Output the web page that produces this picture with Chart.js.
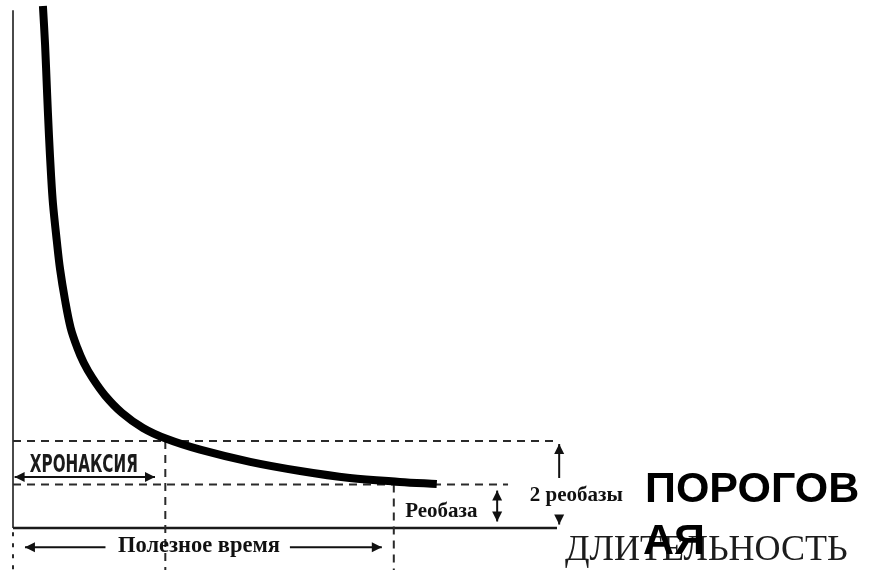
<!DOCTYPE html>
<html lang="ru">
<head>
<meta charset="utf-8">
<title>Кривая сила–длительность</title>
<script src="https://cdn.jsdelivr.net/npm/chart.js@4/dist/chart.umd.min.js"></script>
<style>
  html, body { margin: 0; padding: 0; background: #fff; }
  #wrap { width: 880px; height: 570px; position: relative; }
</style>
</head>
<body>
<div id="wrap"><canvas id="chart" width="880" height="570"></canvas></div>
<script>
// Strength–duration curve (threshold stimulus vs. stimulus duration)
const curveTime = [5.5, 5.9, 6.25, 6.6, 7.0, 7.35, 8.05, 8.65, 9.55, 10.6, 11.8, 13.0, 14.6, 16.9, 20.0, 23.9, 28.2, 34.4, 43.6, 52.8, 61.9, 71.1, 77.9];
const curveThreshold = [12.0, 11.1, 10.05, 9.05, 8.1, 7.45, 6.6, 5.95, 5.25, 4.6, 4.15, 3.8, 3.45, 3.05, 2.65, 2.3, 2.05, 1.8, 1.52, 1.31, 1.15, 1.06, 1.01];

// Reference levels and times
const rheobase = 1;
const doubleRheobase = 2;
const chronaxie = 28;
const usefulTime = 70;
const axisMaxTime = 100;
const axisMaxThreshold = 12;
const belowAxis = -0.97;

// Labels
const labelChronaxie = 'ХРОНАКСИЯ';
const labelUsefulTime = 'Полезное время';
const labelRheobase = 'Реобаза';
const labelDoubleRheobase = '2 реобазы';
const labelThreshold = ['ПОРОГОВ', 'АЯ'];
const labelDuration = 'ДЛИТЕЛЬНОСТЬ';

const curvePoints = curveTime.map((t, i) => ({ x: t, y: curveThreshold[i] }));

const dashStyle = { borderColor: '#2a2a2a', borderWidth: 2, borderDash: [8, 6], pointRadius: 0, clip: false, tension: 0 };

function arrow(ctx, x1, y1, x2, y2, both) {
  const head = (fx, fy, tx, ty) => {
    const a = Math.atan2(ty - fy, tx - fx);
    const L = 10, W = 5;
    ctx.beginPath();
    ctx.moveTo(tx, ty);
    ctx.lineTo(tx - L * Math.cos(a) + W * Math.sin(a), ty - L * Math.sin(a) - W * Math.cos(a));
    ctx.lineTo(tx - L * Math.cos(a) - W * Math.sin(a), ty - L * Math.sin(a) + W * Math.cos(a));
    ctx.closePath();
    ctx.fill();
  };
  ctx.beginPath();
  ctx.moveTo(x1, y1);
  ctx.lineTo(x2, y2);
  ctx.stroke();
  head(x1, y1, x2, y2);
  if (both) head(x2, y2, x1, y1);
}

const annotations = {
  id: 'sdAnnotations',
  beforeDatasetsDraw(chart) {
    const { ctx } = chart;
    const xs = chart.scales.x, ys = chart.scales.y;
    const x0 = xs.getPixelForValue(0), y0 = ys.getPixelForValue(0);
    ctx.save();
    // vertical axis
    ctx.strokeStyle = '#4a4a4a';
    ctx.lineWidth = 2;
    ctx.beginPath();
    ctx.moveTo(x0, ys.getPixelForValue(11.9));
    ctx.lineTo(x0, y0);
    ctx.stroke();
    // horizontal axis
    ctx.strokeStyle = '#1a1a1a';
    ctx.lineWidth = 2.5;
    ctx.beginPath();
    ctx.moveTo(x0, y0);
    ctx.lineTo(xs.getPixelForValue(axisMaxTime), y0);
    ctx.stroke();
    ctx.restore();
  },
  afterDatasetsDraw(chart) {
    const { ctx } = chart;
    const xs = chart.scales.x, ys = chart.scales.y;
    const px = v => xs.getPixelForValue(v);
    const py = v => ys.getPixelForValue(v);
    ctx.save();
    ctx.strokeStyle = '#111';
    ctx.fillStyle = '#111';
    ctx.lineWidth = 2;

    // chronaxie span
    arrow(ctx, px(0.3), py(1.17), px(chronaxie - 1.9), py(1.17), true);
    ctx.textBaseline = 'alphabetic';
    ctx.font = 'bold 25px "Liberation Sans Narrow", "DejaVu Sans Condensed", sans-serif';
    ctx.fillStyle = '#1a1a1a';
    ctx.fillText(labelChronaxie, px(3.1), py(1.29), 108);

    // useful time span
    ctx.fillStyle = '#111';
    arrow(ctx, px(17), py(-0.44), px(2.2), py(-0.44), false);
    arrow(ctx, px(50.9), py(-0.44), px(67.8), py(-0.44), false);
    ctx.font = 'bold 24px "Liberation Serif", "DejaVu Serif", serif';
    ctx.fillText(labelUsefulTime, px(19.3), py(-0.55), 162);

    // rheobase marker
    arrow(ctx, px(89), py(0.86), px(89), py(0.15), true);
    ctx.font = 'bold 21px "Liberation Serif", "DejaVu Serif", serif';
    ctx.fillText(labelRheobase, px(72.1), py(0.26), 80);

    // double rheobase marker
    arrow(ctx, px(100.4), py(1.15), px(100.4), py(1.93), false);
    arrow(ctx, px(100.4), py(0.28), px(100.4), py(0.08), false);
    ctx.font = 'bold 21px "Liberation Serif", "DejaVu Serif", serif';
    ctx.fillText(labelDoubleRheobase, px(95.0), py(0.61), 102);

    // axis titles
    ctx.fillStyle = '#1c1c1c';
    ctx.font = '36px "Liberation Serif", "DejaVu Serif", serif';
    ctx.fillText(labelDuration, 565, 560, 296);
    ctx.fillStyle = '#000';
    ctx.font = 'bold 43px "Liberation Sans", Arial, sans-serif';
    ctx.fillText(labelThreshold[0], 645, 502);
    ctx.fillText(labelThreshold[1], 643, 554);
    ctx.restore();
  }
};

new Chart(document.getElementById('chart'), {
  type: 'line',
  data: {
    datasets: [
      { data: curvePoints, borderColor: '#000', borderWidth: 8, pointRadius: 0, tension: 0.35, borderCapStyle: 'butt', borderJoinStyle: 'round', clip: false },
      Object.assign({ data: [{ x: 0, y: doubleRheobase }, { x: axisMaxTime, y: doubleRheobase }] }, dashStyle),
      Object.assign({ data: [{ x: 0, y: rheobase }, { x: 91, y: rheobase }] }, dashStyle),
      Object.assign({ data: [{ x: chronaxie, y: doubleRheobase }, { x: chronaxie, y: belowAxis }] }, dashStyle),
      Object.assign({ data: [{ x: usefulTime, y: rheobase }, { x: usefulTime, y: belowAxis }] }, dashStyle),
      Object.assign({ data: [{ x: 0, y: -0.1 }, { x: 0, y: belowAxis }] }, dashStyle, { borderDash: [4, 7] })
    ]
  },
  options: {
    responsive: false,
    animation: false,
    events: [],
    layout: { padding: { left: 13, right: 323, top: 6, bottom: 42 } },
    plugins: { legend: { display: false }, tooltip: { enabled: false } },
    scales: {
      x: { type: 'linear', min: 0, max: axisMaxTime, display: false },
      y: { type: 'linear', min: 0, max: axisMaxThreshold, display: false }
    }
  },
  plugins: [annotations]
});
</script>
</body>
</html>
